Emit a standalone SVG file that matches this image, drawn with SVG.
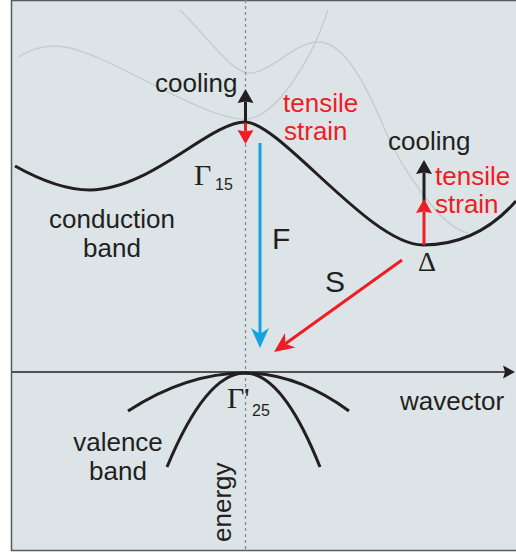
<svg xmlns="http://www.w3.org/2000/svg" width="516" height="554" viewBox="0 0 516 554">
<style>
.sans{font-family:"Liberation Sans",Arial,sans-serif;font-size:26px;fill:#231f20}
.red{fill:#ee1d23}
.serif{font-family:"Liberation Serif","Times New Roman",serif;fill:#231f20}
.sub{font-family:"Liberation Sans",Arial,sans-serif;font-size:16px;fill:#231f20}
.big{font-family:"Liberation Sans",Arial,sans-serif;font-size:30px;fill:#231f20}
.band{fill:none;stroke:#231f20;stroke-width:3}
.ghost{fill:none;stroke:#c9cbcd;stroke-width:1.4}
</style>
<defs>
<marker id="hk" viewBox="0 -9 16 18" markerUnits="userSpaceOnUse" markerWidth="16" markerHeight="18" refX="1.5" refY="0" orient="auto"><path d="M0,-8 L14,0 L0,8 L1.5,0 z" fill="#231f20"/></marker>
<marker id="hr" viewBox="0 -9 16 18" markerUnits="userSpaceOnUse" markerWidth="16" markerHeight="18" refX="1.5" refY="0" orient="auto"><path d="M0,-8 L14,0 L0,8 L1.5,0 z" fill="#ee1d23"/></marker>
<marker id="hbl" viewBox="0 -10 22 20" markerUnits="userSpaceOnUse" markerWidth="22" markerHeight="20" refX="6" refY="0" orient="auto"><path d="M0,-9 L20,0 L0,9 L6,0 z" fill="#12a3e0"/></marker>
<marker id="hrl" viewBox="0 -10 22 20" markerUnits="userSpaceOnUse" markerWidth="22" markerHeight="20" refX="6" refY="0" orient="auto"><path d="M0,-9 L20,0 L0,9 L6,0 z" fill="#ee1d23"/></marker>
<marker id="hax" viewBox="0 -7 14 14" markerUnits="userSpaceOnUse" markerWidth="14" markerHeight="14" refX="2" refY="0" orient="auto"><path d="M0,-6.5 L12,0 L0,6.5 L2,0 z" fill="#231f20"/></marker>
</defs>

<g id="frame">
<rect x="11.5" y="0.5" width="520" height="550" fill="#dce4e7" stroke="#5a5a5a" stroke-width="1.5"/>
</g>

<g id="ghost-bands">
<path class="ghost" d="M18,57 C30,50 40,46 55,46 C100,46 200,120 245,119 C275,119 312,60 328,10"/>
<path class="ghost" d="M180,10 C215,45 232,73 250,73 C270,73 295,42 318,42 C340,42 360,70 385,130 C400,165 440,228 468,233"/>
</g>

<g id="energy-axis">
<line x1="245.5" y1="0" x2="245.5" y2="551" stroke="#8a8a8a" stroke-width="1.3" stroke-dasharray="3,3"/>
<text class="sans" transform="translate(231,542) rotate(-90)">energy</text>
</g>

<g id="conduction-band">
<path class="band" d="M15,166 C40,180 65,190 90,190 C150,190 210,122 245,122 C280,122 370,245 423,245 C465,245 495,225 516,201"/>
<text class="sans" x="112" y="228" text-anchor="middle">conduction</text>
<text class="sans" x="112" y="257" text-anchor="middle">band</text>
</g>

<g id="gamma15">
<text class="serif" x="194" y="185" font-size="30">Γ</text>
<text class="sub" x="215" y="190">15</text>
</g>

<g id="delta">
<text class="serif" x="418" y="271" font-size="28">Δ</text>
</g>

<g id="valence-band">
<path class="band" d="M128,411 Q186.5,373 245,373 Q297,373 349,411"/>
<path class="band" d="M167,467 Q206,373 245,373 Q282.5,373 320,467"/>
<text class="sans" x="118" y="451" text-anchor="middle">valence</text>
<text class="sans" x="118" y="480" text-anchor="middle">band</text>
</g>

<g id="gamma25">
<text class="serif" x="227" y="408" font-size="30">Γ'</text>
<text class="sub" x="252" y="416">25</text>
</g>

<g id="wavevector-axis">
<text class="sans" x="400" y="410">wavector</text>
</g>

<g id="connectors">
<line x1="12" y1="372" x2="505" y2="372" stroke="#231f20" stroke-width="1.5" marker-end="url(#hax)"/>
<line x1="245.5" y1="122" x2="245.5" y2="101.5" stroke="#231f20" stroke-width="3" marker-end="url(#hk)"/>
<line x1="245.5" y1="123" x2="245.5" y2="131.5" stroke="#ee1d23" stroke-width="3" marker-end="url(#hr)"/>
<line x1="260" y1="143" x2="260" y2="334" stroke="#12a3e0" stroke-width="3" marker-end="url(#hbl)"/>
<line x1="402" y1="260" x2="285.4" y2="343.8" stroke="#ee1d23" stroke-width="3" marker-end="url(#hrl)"/>
<line x1="424" y1="205" x2="424" y2="172.5" stroke="#231f20" stroke-width="3" marker-end="url(#hk)"/>
<line x1="424" y1="245" x2="424" y2="211.5" stroke="#ee1d23" stroke-width="3" marker-end="url(#hr)"/>
</g>

<g id="labels">
<text class="sans" x="155" y="92">cooling</text>
<text class="sans red" x="283" y="112">tensile</text>
<text class="sans red" x="284" y="140">strain</text>
<text class="sans" x="388" y="150">cooling</text>
<text class="sans red" x="435" y="185">tensile</text>
<text class="sans red" x="435" y="213">strain</text>
<text class="big" x="272" y="249">F</text>
<text class="big" x="325" y="292">S</text>
</g>
</svg>
